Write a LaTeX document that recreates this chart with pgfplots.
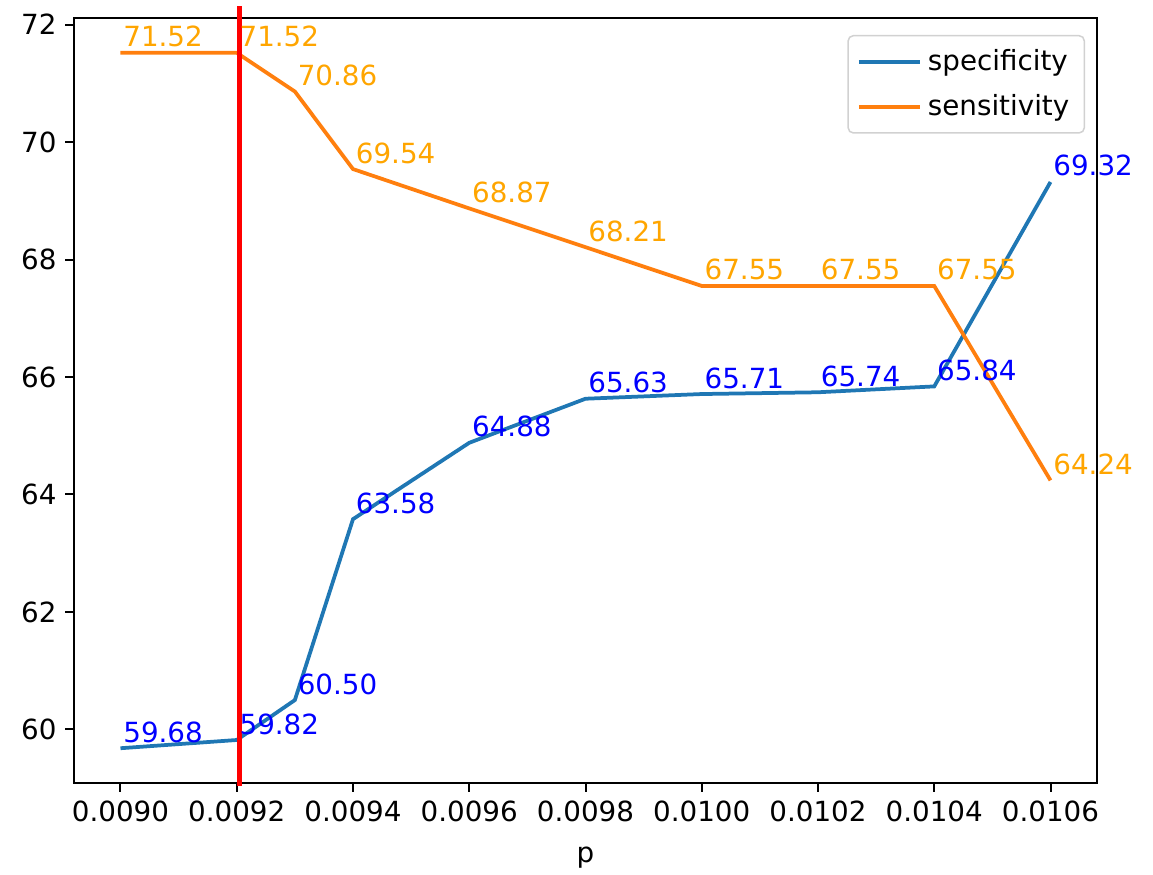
\documentclass[border=0pt]{standalone}
\usepackage{fontspec}
\setmainfont{DejaVu Sans}
\usepackage{pgfplots}
\pgfplotsset{compat=1.18}
\definecolor{mplblue}{HTML}{1F77B4}
\definecolor{mplorange}{HTML}{FF7F0E}
\definecolor{annorange}{HTML}{FFA500}
\definecolor{annblue}{HTML}{0000FF}
\begin{document}
\begin{tikzpicture}[font=\fontsize{11.1bp}{13bp}\selectfont]
\begin{axis}[
  scale only axis,
  width=409.2bp, height=306bp,
  xmin=0.00892, xmax=0.01068,
  ymin=59.088, ymax=72.112,
  clip=false,
  axis line style={line width=0.8bp},
  tick style={line width=0.8bp, black},
  tick align=outside,
  major tick length=3.5bp,
  xtick pos=bottom, ytick pos=left,
  xtick={0.0090,0.0092,0.0094,0.0096,0.0098,0.0100,0.0102,0.0104,0.0106},
  xticklabels={0.0090,0.0092,0.0094,0.0096,0.0098,0.0100,0.0102,0.0104,0.0106},
  ytick={60,62,64,66,68,70,72},
  yticklabels={60,62,64,66,68,70,72},
  scaled x ticks=false,
  xlabel={p},
  xlabel style={yshift=-3.5bp},
  legend cell align=left,
  legend style={at={(1,1)}, anchor=north east, xshift=-4.8bp, yshift=-6.8bp,
    draw=black!18, rounded corners=2bp, line width=0.6bp,
    inner xsep=3.5bp, inner ysep=3bp, row sep=3bp,
    nodes={inner sep=2.5bp}},
  legend image code/.code={\draw[#1, line width=1.5bp] (0bp,0bp) -- (24.4bp,0bp);},
  legend style={/tikz/every even column/.append style={column sep=5bp}},
  nodes near coords,
  point meta=explicit symbolic,
]
\addplot[mplblue, line width=1.5bp,
  every node near coord/.style={anchor=base west, inner sep=0pt, yshift=2.4bp, xshift=0.4bp, text=annblue, font=\fontsize{11.1bp}{13bp}\selectfont}]
  coordinates {
  (0.0090,59.68) [59.68]
  (0.0092,59.82) [59.82]
  (0.0093,60.50) [60.50]
  (0.0094,63.58) [63.58]
  (0.0096,64.88) [64.88]
  (0.0098,65.63) [65.63]
  (0.0100,65.71) [65.71]
  (0.0102,65.74) [65.74]
  (0.0104,65.84) [65.84]
  (0.0106,69.32) [69.32]
  };
\addlegendentry{specificity}
\addplot[mplorange, line width=1.5bp,
  every node near coord/.style={anchor=base west, inner sep=0pt, yshift=2.4bp, xshift=0.4bp, text=annorange, font=\fontsize{11.1bp}{13bp}\selectfont}]
  coordinates {
  (0.0090,71.52) [71.52]
  (0.0092,71.52) [71.52]
  (0.0093,70.86) [70.86]
  (0.0094,69.54) [69.54]
  (0.0096,68.87) [68.87]
  (0.0098,68.21) [68.21]
  (0.0100,67.55) [67.55]
  (0.0102,67.55) [67.55]
  (0.0104,67.55) [67.55]
  (0.0106,64.24) [64.24]
  };
\addlegendentry{sensitivity}
\addplot[red, line width=2bp, forget plot, nodes near coords={}] coordinates {(0.009205,59.04) (0.009205,72.32)};
\end{axis}
\pgfresetboundingbox
\path ([shift={(-29.6bp,-36.8bp)}]current axis.south west) rectangle ([shift={(22.4bp,7.2bp)}]current axis.north east);
\end{tikzpicture}
\end{document}
